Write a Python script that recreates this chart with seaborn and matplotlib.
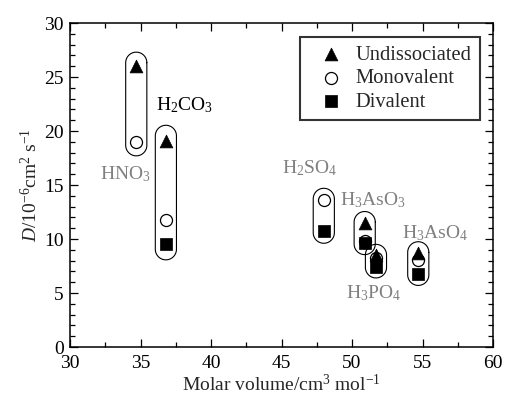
import numpy as np
import pandas as pd
import matplotlib
matplotlib.use("Agg")
import matplotlib.pyplot as plt
import seaborn as sns

# ---- data ----
acids = ["HNO3", "H2CO3", "H2SO4", "H3AsO3", "H3PO4", "H3AsO4"]
acid_labels = [r"HNO$_3$", r"H$_2$CO$_3$", r"H$_2$SO$_4$", r"H$_3$AsO$_3$", r"H$_3$PO$_4$", r"H$_3$AsO$_4$"]
molar_volume = [34.7, 36.8, 48.0, 50.9, 51.7, 54.7]
undissociated = [26.0, 19.1, np.nan, 11.5, 8.5, 8.7]
monovalent = [19.0, 11.8, 13.6, 9.8, 8.2, 8.05]
divalent = [np.nan, 9.5, 10.7, 9.6, 7.4, 6.75]
label_colors = ["#808080", "black", "#808080", "#808080", "#808080", "#808080"]
label_x = [33.9, 38.1, 47.0, 51.5, 51.5, 55.9]
label_y = [16.0, 22.4, 16.6, 13.6, 5.0, 10.55]

df = pd.DataFrame({"acid": acids, "V": molar_volume, "Undissociated": undissociated,
                   "Monovalent": monovalent, "Divalent": divalent})

sns.set_theme(style="ticks")
plt.rcParams["font.family"] = ["Liberation Serif", "DejaVu Serif"]
plt.rcParams["mathtext.fontset"] = "custom"
plt.rcParams["mathtext.rm"] = "Liberation Serif"
plt.rcParams["mathtext.it"] = "Liberation Serif:italic"
plt.rcParams["mathtext.bf"] = "Liberation Serif:bold"

W, H = 505, 394
fig = plt.figure(figsize=(W / 100, H / 100), dpi=100)
L, R, T, B = 70, 493, 23, 347
ax = fig.add_axes([L / W, 1 - B / H, (R - L) / W, (B - T) / H])

ax.set_xlim(30, 60)
ax.set_ylim(0, 30)

# capsules (drawn from the data extents)
hw = 0.75
ry = hw * ((R - L) / 30) / ((B - T) / 30)
for i in range(len(acids)):
    vals = [v for v in (undissociated[i], monovalent[i], divalent[i]) if not np.isnan(v)]
    top, bot = max(vals), min(vals)
    span = top - bot
    pad = 0.95 + 0.05 * span
    top += pad
    bot -= pad
    cx = molar_volume[i]
    t1 = np.linspace(0, np.pi, 40)
    t2 = np.linspace(np.pi, 2 * np.pi, 40)
    xs = np.concatenate([cx + hw * np.cos(t1), cx + hw * np.cos(t2), [cx + hw]])
    ys = np.concatenate([top - ry + ry * np.sin(t1), bot + ry + ry * np.sin(t2), [top - ry]])
    ax.plot(xs, ys, color="black", lw=0.8, zorder=1)

sns.scatterplot(data=df, x="V", y="Monovalent", marker="o", s=75, facecolor="white",
                edgecolor="black", linewidth=0.9, ax=ax, zorder=3, label="Monovalent")
sns.scatterplot(data=df, x="V", y="Undissociated", marker="^", s=85, color="black",
                edgecolor="black", linewidth=0.5, ax=ax, zorder=4, label="Undissociated")
sns.scatterplot(data=df, x="V", y="Divalent", marker="s", s=70, color="black",
                edgecolor="black", linewidth=0.5, ax=ax, zorder=5, label="Divalent")

for i in range(len(acids)):
    ax.text(label_x[i], label_y[i], acid_labels[i], color=label_colors[i],
            fontsize=14, ha="center", va="center")

handles, labels = ax.get_legend_handles_labels()
order = [labels.index(n) for n in ["Undissociated", "Monovalent", "Divalent"]]
leg = ax.legend([handles[k] for k in order], [labels[k] for k in order],
                loc="upper right", bbox_to_anchor=((480 - L) / (R - L), (B - 37) / (B - T)),
                borderaxespad=0, frameon=True, fancybox=False, fontsize=14.8,
                handletextpad=0.1, borderpad=0.4, labelspacing=0.2, handlelength=2.2)
leg.get_frame().set_edgecolor("black")
leg.get_frame().set_linewidth(1.5)

ax.set_xticks(np.arange(30, 61, 5))
ax.set_yticks(np.arange(0, 31, 5))
ax.set_xticks(np.arange(30, 60.1, 2.5), minor=True)
ax.set_yticks(np.arange(0, 30.1, 1), minor=True)
ax.tick_params(which="both", direction="in", top=True, right=True, colors="black",
               labelsize=14, width=0.9)
ax.tick_params(which="major", length=6)
ax.tick_params(axis="x", which="major", pad=6)
ax.tick_params(axis="y", which="major", pad=4.5)
ax.tick_params(which="minor", length=3.5)
for s in ax.spines.values():
    s.set_linewidth(1.1)
    s.set_color("black")

ax.set_xlabel(r"Molar volume/cm$^3$ mol$^{-1}$", fontsize=14, labelpad=1)
ax.set_ylabel(r"$D$/10$^{-6}$cm$^2$ s$^{-1}$", fontsize=14, labelpad=2)

fig.savefig("out.png", dpi=100)
